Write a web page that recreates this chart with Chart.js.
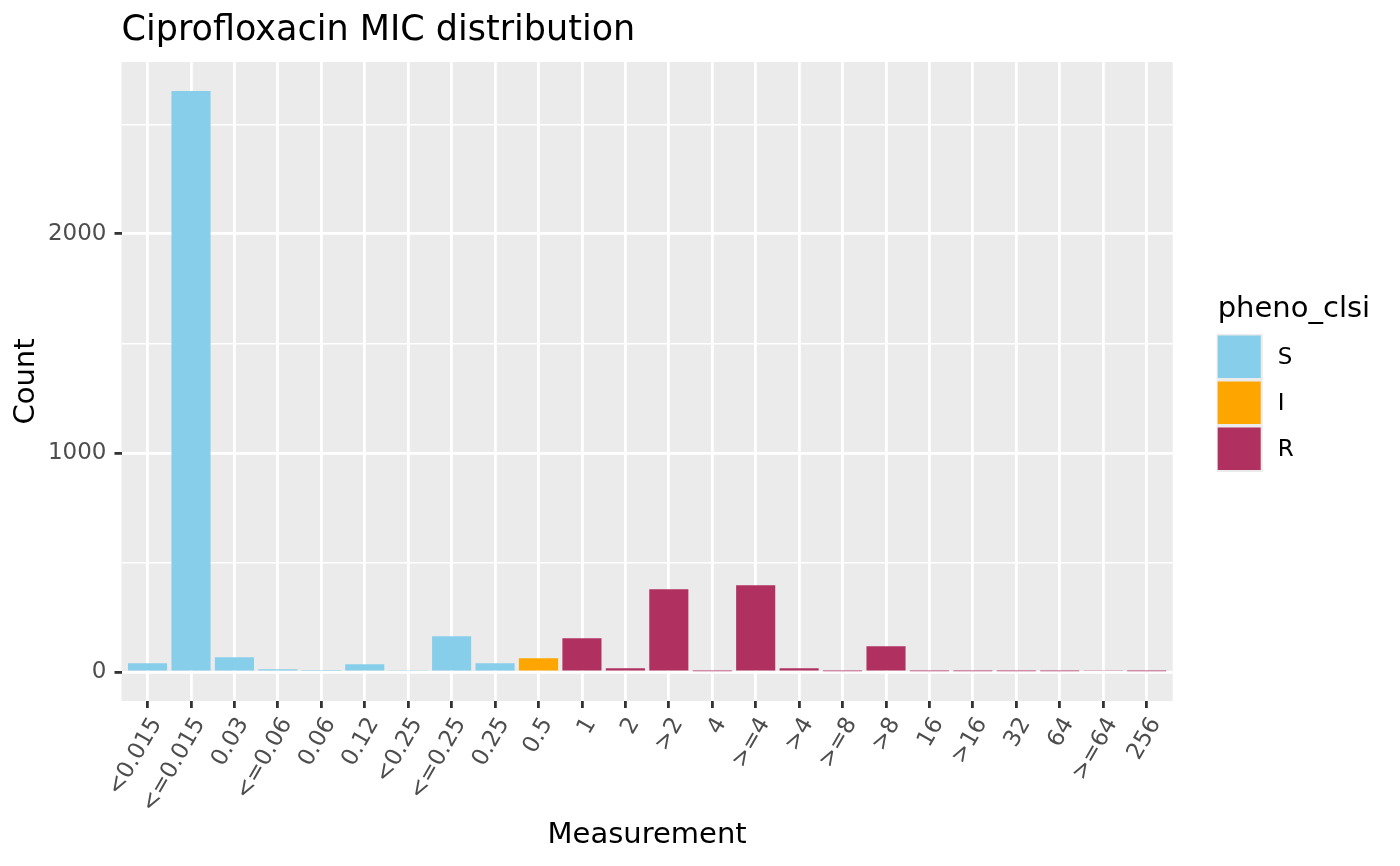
<!DOCTYPE html>
<html>
<head>
<meta charset="utf-8">
<title>Ciprofloxacin MIC distribution</title>
<script src="https://cdn.jsdelivr.net/npm/chart.js@4/dist/chart.umd.min.js"></script>
<style>
  html, body { margin: 0; padding: 0; background: #ffffff; }
  #wrap { position: relative; width: 1400px; height: 866px; }
</style>
</head>
<body>
<div id="wrap"><canvas id="micChart"></canvas></div>
<script>
const categories = ["<0.015", "<=0.015", "0.03", "<=0.06", "0.06", "0.12", "<0.25", "<=0.25",
  "0.25", "0.5", "1", "2", ">2", "4", ">=4", ">4", ">=8", ">8", "16", ">16", "32", "64", ">=64", "256"];
const counts = [40, 2652, 67, 12, 4, 35, 8, 163, 40, 63, 154, 17, 378, 3, 396, 17, 3, 117, 3, 3, 3, 3, 8, 3];
const pheno = ["S", "S", "S", "S", "S", "S", "S", "S", "S", "I", "R", "R", "R", "R", "R", "R", "R", "R",
  "R", "R", "R", "R", "R", "R"];
const phenoLevels = ["S", "I", "R"];
const phenoColors = ["#87CEEB", "#FFA500", "#B03060"];
const yMajorTicks = [0, 1000, 2000];
const yMinorTicks = [500, 1500, 2500];

const FONT = "DejaVu Sans";
const countMax = Math.max(...counts);

function buildDatasets() {
  return phenoLevels.map((lvl, k) => ({
    label: lvl,
    data: categories.map((c, i) => ({ x: i, y: pheno[i] === lvl ? counts[i] : null })),
    backgroundColor: phenoColors[k],
    borderWidth: 0,
    grouped: false,
    categoryPercentage: 1,
    barPercentage: 0.9,
  }));
}

// grey panel behind the grid
const panelPlugin = {
  id: "panel",
  beforeDraw(chart) {
    const { ctx, chartArea: a } = chart;
    ctx.save();
    ctx.fillStyle = "#EBEBEB";
    ctx.fillRect(a.left, a.top, a.right - a.left, a.bottom - a.top);
    ctx.restore();
  },
};

// ggplot-like title and right side legend
const decorPlugin = {
  id: "decor",
  afterDraw(chart) {
    const { ctx, chartArea: a } = chart;
    ctx.save();
    ctx.fillStyle = "#000000";
    ctx.textBaseline = "alphabetic";
    ctx.textAlign = "left";
    ctx.font = `35px "${FONT}"`;
    ctx.fillText("Ciprofloxacin MIC distribution", a.left, 40);

    const lx = a.right + 45;
    ctx.font = `29px "${FONT}"`;
    ctx.fillText("pheno_clsi", lx, 317);

    const ds = chart.data.datasets;
    ctx.fillStyle = "#EBEBEB";
    ctx.fillRect(lx - 1, 334, 46, 46 * ds.length);
    ctx.font = `23px "${FONT}"`;
    ctx.textBaseline = "middle";
    ds.forEach((d, k) => {
      const top = 335.5 + k * 46;
      ctx.fillStyle = d.backgroundColor;
      ctx.fillRect(lx, top, 43, 42.5);
      ctx.fillStyle = "#000000";
      ctx.fillText(d.label, lx + 60, top + 23);
    });
    ctx.restore();
  },
};

function renderChart() {
  const ctx = document.getElementById("micChart").getContext("2d");
  new Chart(ctx, {
    type: "bar",
    data: { datasets: buildDatasets() },
    options: {
      responsive: true,
      maintainAspectRatio: false,
      animation: false,
      events: [],
      layout: { padding: { top: 62, right: 227.3, bottom: 0, left: 0 } },
      plugins: {
        legend: { display: false },
        tooltip: { enabled: false },
        title: { display: false },
      },
      scales: {
        x: {
          type: "linear",
          min: -0.6,
          max: categories.length - 1 + 0.6,
          offset: false,
          afterBuildTicks: (scale) => {
            scale.ticks = categories.map((c, i) => ({ value: i }));
          },
          afterFit: (scale) => {
            scale.height = 165;
          },
          border: { display: false },
          grid: {
            offset: false,
            color: "#FFFFFF",
            lineWidth: 2.8,
            drawTicks: true,
            tickLength: 7,
            tickColor: "#333333",
            tickWidth: 2.8,
          },
          ticks: {
            autoSkip: false,
            minRotation: 60,
            maxRotation: 60,
            padding: 5,
            labelOffset: 9,
            color: "#4D4D4D",
            font: { family: FONT, size: 23 },
            callback: (value) => categories[value],
          },
          title: {
            display: true,
            text: "Measurement",
            color: "#000000",
            font: { family: FONT, size: 29 },
            padding: { top: 0, bottom: 13 },
          },
        },
        y: {
          type: "linear",
          min: -countMax * 0.05,
          max: countMax * 1.05,
          afterBuildTicks: (scale) => {
            scale.ticks = [...yMajorTicks, ...yMinorTicks].sort((p, q) => p - q).map((v) => ({ value: v }));
          },
          afterFit: (scale) => {
            scale.width = 121.5;
          },
          border: { display: false },
          grid: {
            color: "#FFFFFF",
            lineWidth: (c) => (yMajorTicks.includes(c.tick.value) ? 2.8 : 1.4),
            drawTicks: true,
            tickLength: 7,
            tickColor: (c) => (yMajorTicks.includes(c.tick.value) ? "#333333" : "rgba(0,0,0,0)"),
            tickWidth: 2.8,
          },
          ticks: {
            padding: 8,
            color: "#4D4D4D",
            font: { family: FONT, size: 23 },
            callback: (value) => (yMajorTicks.includes(value) ? String(value) : ""),
          },
          title: {
            display: true,
            text: "Count",
            color: "#000000",
            font: { family: FONT, size: 29 },
            padding: { top: 9, bottom: 0 },
          },
        },
      },
    },
    plugins: [panelPlugin, decorPlugin],
  });
}

document.addEventListener("DOMContentLoaded", renderChart);
</script>
</body>
</html>
